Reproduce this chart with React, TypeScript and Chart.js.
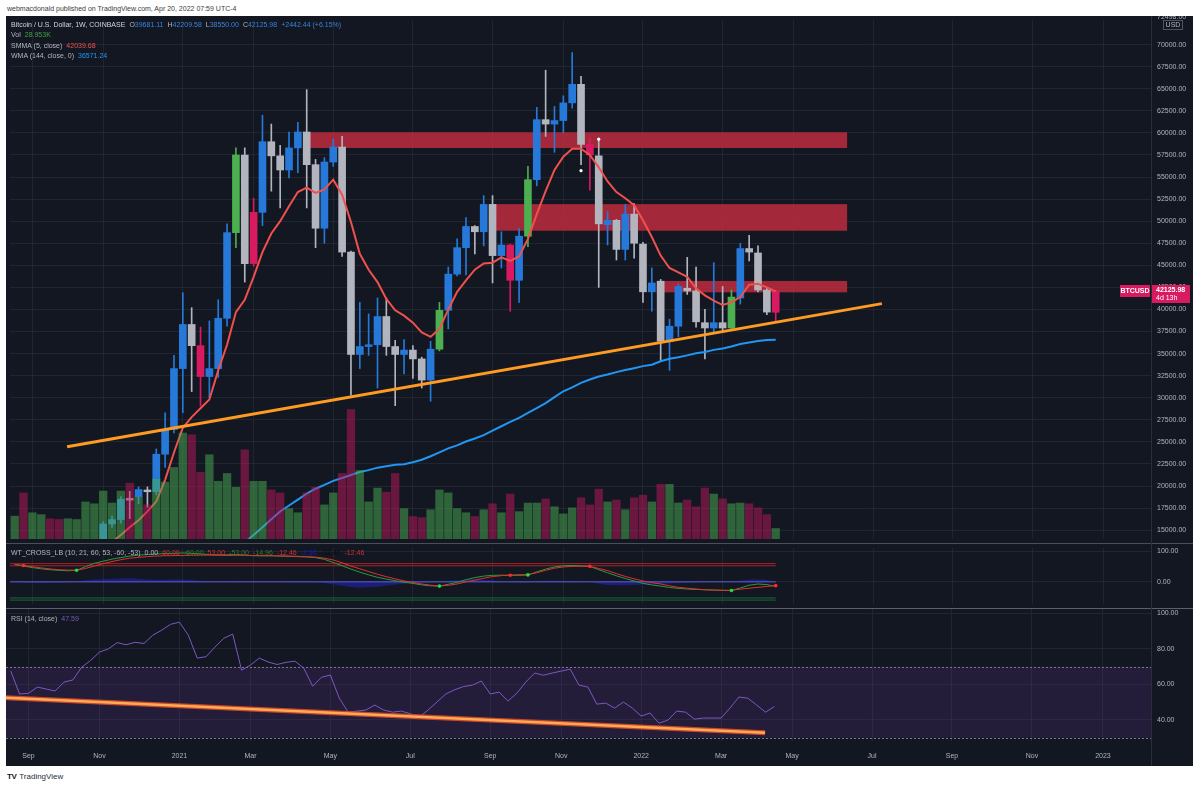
import React, { useEffect, useRef } from 'react';
import { Chart, registerables } from 'chart.js';

Chart.register(...registerables);

const FONT = "'Liberation Sans', Arial, Helvetica, sans-serif";
const BG = '#131722';
const GRID = 'rgba(42,46,57,0.6)';
const AXIS_TEXT = '#b2b5be';

// ---------------------------------------------------------------------------
// Weekly BTCUSD (COINBASE). Index 0 is the week of 24 Aug 2020.
// The first ten weeks trade below the visible price range, so OHLC starts at 10.
// ---------------------------------------------------------------------------
const FIRST_CANDLE = 10;

const candleOpen = [
  13800, 15700, 16200, 18600, 18800, 19550, 19350, 23600, 26400, 33300,
  38300, 35900, 32400, 33300, 39000, 48700, 57500, 45200, 51000, 59000,
  57400, 55800, 58300, 60100, 56400, 49200, 56700, 58400, 46500, 34900,
  35800, 36000, 39200, 35800, 34900, 35400, 34400, 32000, 35500, 39900,
  44000, 47000, 49400, 48800, 51900, 46100, 47300, 43300, 48300, 54700,
  61500, 61000, 61400, 63400, 65500, 58700, 57400, 49600, 50100, 46800,
  50800, 47400, 42000, 43200, 36400, 38100, 42400, 42100, 38500, 37900,
  38500, 37900, 41300, 46900, 46400, 42200, 39681.11,
];
const candleHigh = [
  15960, 16600, 18800, 19400, 19900, 19900, 24200, 28300, 34800, 41900,
  40200, 38000, 38700, 41100, 49700, 58300, 58300, 52600, 62000, 61000,
  58600, 60100, 61200, 64900, 57000, 57200, 59300, 59600, 46600, 40800,
  39500, 41300, 41300, 36500, 36600, 35900, 34600, 36400, 40800, 44800,
  48000, 50400, 49500, 52900, 52900, 48800, 47400, 49200, 56200, 62900,
  67100, 63000, 64200, 69100, 66400, 59400, 59200, 51100, 50200, 51900,
  52000, 47600, 44700, 43400, 38900, 42900, 45900, 44800, 40000, 45300,
  42600, 42200, 47500, 48400, 47200, 42500, 42209.58,
];
const candleLow = [
  13200, 15300, 15800, 16300, 18000, 17600, 19000, 22100, 26000, 28300,
  30700, 29100, 30000, 32300, 38100, 47000, 43100, 44900, 49500, 53400,
  51500, 54900, 55500, 51500, 47000, 47500, 56200, 46000, 30300, 33300,
  34800, 31100, 34800, 29100, 32700, 32200, 31100, 29600, 35300, 37800,
  43800, 43900, 46300, 47200, 43000, 44700, 39800, 40800, 47100, 54000,
  59600, 57800, 60000, 62800, 56400, 53500, 42500, 47300, 45600, 45600,
  45800, 40800, 39800, 34200, 33100, 36900, 41700, 38000, 34400, 37300,
  37600, 37700, 40600, 45500, 42000, 39400, 38550.0,
];
const candleClose = [
  15700, 16200, 18500, 18400, 19600, 19350, 23600, 26400, 33300, 38300,
  35900, 32400, 33300, 39000, 48700, 57500, 45200, 51000, 59000, 57400,
  55800, 58300, 60100, 56400, 49200, 56700, 58400, 46500, 34900, 35800,
  36000, 39200, 35800, 34900, 35400, 34400, 32000, 35500, 39900, 44000,
  47000, 49400, 48800, 51900, 46100, 47300, 43300, 48300, 54700, 61500,
  61000, 61400, 63400, 65500, 58700, 57500, 49700, 50100, 46800, 50800,
  47500, 42000, 43000, 36400, 38100, 42600, 42100, 38600, 37900, 38500,
  37900, 41400, 46900, 46500, 42200, 39700, 42125.98,
];
// bar paint: b = blue, w = grey, g = green, m = magenta
const candleTone = [
  'b', 'b', 'b', 'w', 'b', 'w', 'b', 'b', 'b', 'b',
  'w', 'm', 'b', 'b', 'b', 'g', 'w', 'm', 'b', 'w',
  'w', 'b', 'b', 'w', 'w', 'b', 'b', 'w', 'w', 'b',
  'b', 'b', 'w', 'w', 'b', 'w', 'w', 'b', 'g', 'b',
  'b', 'b', 'w', 'b', 'w', 'b', 'm', 'b', 'g', 'b',
  'w', 'b', 'b', 'b', 'w', 'm', 'w', 'b', 'w', 'b',
  'w', 'w', 'b', 'w', 'b', 'b', 'w', 'w', 'w', 'b',
  'w', 'g', 'b', 'w', 'w', 'w', 'm',
];

// volume in thousands of BTC, from index 0
const volumeK = [
  62, 124, 71, 66, 55, 53, 55, 53, 100, 95,
  129, 97, 129, 150, 113, 92, 161, 153, 192, 284,
  279, 179, 226, 155, 176, 139, 239, 155, 155, 132,
  124, 82, 71, 124, 139, 92, 124, 176, 347, 184,
  100, 137, 126, 176, 82, 61, 58, 79, 132, 124,
  82, 71, 61, 79, 95, 71, 121, 74, 97, 97,
  108, 87, 68, 84, 111, 92, 134, 100, 105, 79,
  111, 118, 100, 147, 147, 97, 105, 87, 137, 121,
  108, 95, 97, 95, 84, 66, 28.953,
];
const volumeTone = [
  'g', 'm', 'g', 'g', 'm', 'm', 'g', 'g', 'g', 'g',
  'g', 'g', 'g', 'm', 'g', 'm', 'g', 'g', 'g', 'g',
  'm', 'm', 'g', 'g', 'g', 'g', 'm', 'g', 'g', 'm',
  'm', 'g', 'g', 'm', 'm', 'g', 'g', 'm', 'm', 'g',
  'g', 'g', 'm', 'm', 'g', 'm', 'm', 'g', 'g', 'g',
  'g', 'g', 'm', 'g', 'm', 'g', 'm', 'g', 'g', 'g',
  'm', 'g', 'g', 'g', 'm', 'm', 'm', 'g', 'm', 'g',
  'm', 'm', 'g', 'm', 'g', 'g', 'm', 'm', 'm', 'g',
  'm', 'g', 'g', 'm', 'm', 'm', 'g',
];

// SMMA (5, close), from index 11
const SMMA_START = 11;
const smma5 = [
  13660, 14450, 15340, 16120, 17120, 18240, 20700, 23800, 26600,
  27800, 28800, 29800, 33100, 36000, 39700, 41100, 43700, 46500, 48600,
  50000, 51700, 53300, 53800, 53200, 53600, 54700, 53000, 49900, 46300,
  44500, 43100, 41200, 39900, 39300, 38500, 37400, 36900, 37800, 40000,
  42000, 43300, 44500, 45200, 45300, 45900, 45500, 46000, 48000, 50800,
  53400, 55800, 57300, 58200, 58200, 57500, 56100, 54500, 53300, 52600,
  51800, 50100, 48200, 46100, 44700, 44200, 43700, 42400, 41600, 41000,
  40500, 40800, 41400, 42800, 42900, 42500, 42039.68,
];

// WMA (144, close, 0), from index 26
const WMA_START = 26;
const wma144 = [
  13660, 14440, 15330, 16230,
  17120, 17790, 18460, 19130, 19690, 20130, 20580, 20910, 21250, 21580,
  21800, 22080, 22250, 22420, 22470, 22700, 22980, 23370, 23810, 24260,
  24600, 25040, 25380, 25770, 26270, 26770, 27270, 27720, 28280, 28830,
  29390, 30060, 30730, 31180, 31680, 32070, 32400, 32630, 32900, 33130,
  33350, 33580, 33740, 34130, 34410, 34580, 34800, 35030, 35190, 35420,
  35580, 35810, 36090, 36250, 36420, 36530, 36571.24,
];

// white signal dots on the price pane
const signalIdx = [64, 66];
const signalPrice = [55720, 59290];

// supply zones: price band and week span
const zoneTop = [60070, 51930, 43230];
const zoneBottom = [58290, 48920, 41940];
const zoneFrom = [32.6, 53.9, 72.55];
const zoneTo = [94.07, 94.07, 94.07];

// rising support line (week index, price)
const supportX = [5.92, 98.0];
const supportY = [24450, 40660];

// WT_CROSS_LB, from index 0
const wt1 = [
  57, 52, 47, 43, 40, 38, 36.6, 38, 50, 61,
  68, 75, 80, 85, 88, 90, 92, 93, 94, 95,
  94, 92, 90, 89, 89, 90, 88, 86, 86, 86,
  85, 84, 83, 82, 80, 74, 64, 53, 42, 32,
  23, 15, 9, 4, -1, -5, -10, -13, -14.4, -8,
  -1.5, 7, 14, 19, 21.5, 22, 21.5, 21.5, 22.2, 33,
  42, 49, 53, 54, 52.5, 51, 40, 30, 20, 11,
  3, -5, -10, -14, -18.5, -21.5, -23.5, -25, -26, -27,
  -28, -28.8, -20, -11, -7, -9, -14.96,
];
const wt2 = [
  57.6, 54, 50, 46, 42.5, 40, 38.6, 38.6, 44, 52,
  60, 67, 73, 78, 80.5, 83, 85, 86, 86.5, 87,
  87.5, 88, 88, 87.5, 87, 87.5, 87.5, 87, 86, 86,
  85.5, 85, 84, 83, 81.5, 78, 72, 63, 52, 43,
  34, 25, 17, 10, 3, -2, -7, -11, -13.3, -11.5,
  -7, 0, 5.5, 12, 17.3, 20.5, 22.2, 23.5, 24.2, 30,
  38, 45, 49, 51, 51.5, 51, 44, 37, 27, 18,
  10, 3, -2.5, -7, -13, -18, -21, -23.5, -25.9, -27,
  -27.7, -27.5, -24, -21, -18, -15, -12.46,
];
const wtDiff = [
  0, -2, -3, -3, -2.5, -2, -1, 0, 5, 8,
  9, 10, 11, 12, 10, 8, 7, 7, 7.5, 8,
  6, 4, 2, 1.5, 2, 2.5, 0.5, -1, 0, 0,
  -0.5, -1, -1, -1, -1.5, -4, -8, -13, -17, -19,
  -18, -16, -13, -9, -6, -4, -3, -2, -1, 3.5,
  5.5, 7, 8.5, 7, 4.2, 1.5, -0.7, -2, -2, 3,
  4, 4, 4, 3, 1, 0, -6, -10, -11, -11,
  -10, -9, -7.5, -7, -5.5, -3.5, -2.5, -1.5, -0.1, 0,
  -0.3, -1.3, 4, 8, 8, 6, -2.5,
];
const wtLevels = [0, 60, 53, -60, -53];
const wtLevelColors = ['#5c5cd8', 'rgba(214,40,40,0.75)', 'rgba(214,40,40,0.75)', 'rgba(30,140,60,0.7)', 'rgba(30,140,60,0.7)'];
const crossUpIdx = [7, 48, 58, 81];
const crossUpVal = [38.3, -14, 23, -28.5];
const crossDownIdx = [1, 56, 65, 86];
const crossDownVal = [54, 22, 51, -12.46];

// RSI (14, close), from index 0
const rsi14 = [
  67.5, 54.6, 55.0, 58.5, 57.4, 56.3, 61.3, 62.5, 69.7, 73.5,
  78.2, 80.0, 83.5, 82.3, 83.7, 83.0, 87.7, 90.5, 93.8, 95.0,
  87.7, 74.8, 75.6, 81.0, 86.0, 88.3, 68.0, 70.9, 74.8, 72.6,
  71.2, 72.4, 73.1, 69.2, 59.0, 64.0, 65.3, 52.3, 44.4, 45.0,
  45.6, 48.4, 45.6, 44.4, 45.0, 43.5, 41.6, 45.6, 50.1, 54.6,
  57.0, 58.8, 59.6, 61.9, 54.6, 55.7, 50.6, 55.1, 61.3, 66.4,
  65.2, 66.4, 67.5, 68.6, 59.6, 58.5, 48.9, 49.5, 46.7, 50.1,
  46.7, 42.2, 43.9, 38.2, 39.9, 45.0, 44.4, 40.5, 41.1, 41.1,
  41.1, 46.7, 52.9, 52.3, 48.4, 44.4, 47.59,
];
const rsiBandTop = 70;
const rsiBandBottom = 30;
const rsiTrendX = [-0.53, 84.95];
const rsiTrendY = [52.5, 32.8];

// axes
const priceTicks = [
  15000, 17500, 20000, 22500, 25000, 27500, 30000, 32500, 35000, 37500, 40000, 42500,
  45000, 47500, 50000, 52500, 55000, 57500, 60000, 62500, 65000, 67500, 70000,
];
const wtTicks = [100, 0];
const rsiTicks = [100, 80, 60, 40];
const timeTickIdx = [2, 10, 19, 27, 36, 45, 54, 62, 71, 80, 88, 97, 106, 115, 123];
const timeTickLabels = ['Sep', 'Nov', '2021', 'Mar', 'May', 'Jul', 'Sep', 'Nov', '2022', 'Mar', 'May', 'Jul', 'Sep', 'Nov', '2023'];

const X_MIN = -0.53;
const X_MAX = 128.41;
const PRICE_MIN = 13997;
const PRICE_MAX = 72789;
const VOL_MAX = 1387;
const WT_MIN = -72.9;
const WT_MAX = 111.5;
const RSI_MIN = 28.18;
const RSI_MAX = 102.42;

const TONE = { b: '#2679d9', w: '#b2b5be', g: '#4caf50', m: '#d81b60' };
const VOL_TONE = { g: 'rgba(76,175,80,0.5)', m: 'rgba(194,24,91,0.5)' };

// ---------------------------------------------------------------------------

function xScale(showLabels: boolean) {
  return {
    type: 'linear',
    min: X_MIN,
    max: X_MAX,
    offset: false,
    afterBuildTicks: (s: any) => {
      s.ticks = timeTickIdx.map((v) => ({ value: v }));
    },
    ticks: {
      display: showLabels,
      autoSkip: false,
      maxRotation: 0,
      color: AXIS_TEXT,
      font: { family: FONT, size: 7 },
      padding: 11,
      callback: (v: number) => {
        const k = timeTickIdx.indexOf(v);
        return k >= 0 ? timeTickLabels[k] : '';
      },
    },
    grid: { color: GRID, drawTicks: false, offset: false },
    border: { display: false },
    afterFit: (s: any) => {
      s.height = showLabels ? 25 : 0;
      s.paddingLeft = 0;
      s.paddingRight = 0;
    },
  };
}

function yScale(min: number, max: number, ticks: number[]) {
  return {
    type: 'linear',
    position: 'right',
    min,
    max,
    afterBuildTicks: (s: any) => {
      s.ticks = ticks.map((v) => ({ value: v }));
    },
    ticks: {
      color: AXIS_TEXT,
      font: { family: FONT, size: 7 },
      padding: 6,
      autoSkip: false,
      callback: (v: number) => Number(v).toFixed(2),
    },
    grid: { color: GRID, drawTicks: false },
    border: { display: false },
    afterFit: (s: any) => {
      s.width = 42;
      s.paddingTop = 0;
      s.paddingBottom = 0;
    },
  };
}

const baseOptions = {
  responsive: false,
  animation: false,
  devicePixelRatio: 1,
  events: [],
  layout: { padding: 0 },
  plugins: { legend: { display: false }, tooltip: { enabled: false } },
};

const zonesPlugin = {
  id: 'zones',
  beforeDatasetsDraw(chart: any) {
    const { ctx, chartArea: a, scales } = chart;
    const x = scales.x;
    const y = scales.y;
    ctx.save();
    ctx.beginPath();
    ctx.rect(a.left, a.top, a.width, a.height);
    ctx.clip();
    ctx.fillStyle = 'rgba(200,45,65,0.8)';
    zoneTop.forEach((t, k) => {
      const x0 = x.getPixelForValue(zoneFrom[k]);
      const x1 = x.getPixelForValue(zoneTo[k]);
      const y0 = y.getPixelForValue(t);
      const y1 = y.getPixelForValue(zoneBottom[k]);
      ctx.fillRect(x0, y0, x1 - x0, y1 - y0);
    });
    ctx.restore();
  },
};

const priceTagPlugin = {
  id: 'priceTag',
  afterDraw(chart: any) {
    const { ctx, chartArea: a, scales } = chart;
    const last = candleClose[candleClose.length - 1];
    const py = Math.round(scales.y.getPixelForValue(last));
    ctx.save();
    ctx.fillStyle = '#d81b60';
    ctx.fillRect(a.right - 31, py - 6, 30, 12);
    ctx.fillRect(a.right + 1, py - 6, 38, 18);
    ctx.fillStyle = '#ffffff';
    ctx.textBaseline = 'middle';
    ctx.font = `bold 7px ${FONT}`;
    ctx.textAlign = 'center';
    ctx.fillText('BTCUSD', a.right - 16, py);
    ctx.textAlign = 'left';
    ctx.fillText(last.toFixed(2), a.right + 5, py - 0.5);
    ctx.font = `7px ${FONT}`;
    ctx.fillText('4d 13h', a.right + 5, py + 7.5);
    // top of the price scale
    ctx.fillStyle = AXIS_TEXT;
    ctx.fillText('72498.00', a.right + 6, 1);
    ctx.strokeStyle = '#50535e';
    ctx.lineWidth = 1;
    ctx.strokeRect(a.right + 12.5, 4.5, 19, 9);
    ctx.textAlign = 'center';
    ctx.fillText('USD', a.right + 22, 9.5);
    ctx.restore();
  },
};

const rsiBandPlugin = {
  id: 'rsiBand',
  beforeDatasetsDraw(chart: any) {
    const { ctx, chartArea: a, scales } = chart;
    const t = scales.y.getPixelForValue(rsiBandTop);
    const b = scales.y.getPixelForValue(rsiBandBottom);
    ctx.save();
    ctx.fillStyle = 'rgba(126,70,200,0.15)';
    ctx.fillRect(a.left, t, a.width, b - t);
    ctx.strokeStyle = '#787b86';
    ctx.lineWidth = 1;
    ctx.setLineDash([2, 2]);
    [t, b].forEach((yy) => {
      const p = Math.round(yy) + 0.5;
      ctx.beginPath();
      ctx.moveTo(a.left, p);
      ctx.lineTo(a.right, p);
      ctx.stroke();
    });
    ctx.restore();
  },
};

function lineSet(data: any[], color: string, width: number, order: number, extra: any = {}) {
  return {
    type: 'line',
    data,
    borderColor: color,
    borderWidth: width,
    pointRadius: 0,
    tension: 0,
    fill: false,
    order,
    ...extra,
  };
}

function mainConfig(): any {
  const at = (k: number) => FIRST_CANDLE + k;
  const tones = candleTone.map((t) => (TONE as any)[t]);
  return {
    type: 'bar',
    data: {
      datasets: [
        lineSet(supportX.map((x, k) => ({ x, y: supportY[k] })), '#ff9b21', 3, 0),
        {
          type: 'bar',
          yAxisID: 'yv',
          data: volumeK.map((v, i) => ({ x: i, y: v })),
          backgroundColor: volumeTone.map((t) => (VOL_TONE as any)[t]),
          barPercentage: 0.94,
          categoryPercentage: 1,
          grouped: false,
          borderWidth: 0,
          order: 1,
        },
        {
          type: 'line',
          data: signalIdx.map((x, k) => ({ x, y: signalPrice[k] })),
          showLine: false,
          pointRadius: 1.6,
          pointBorderWidth: 0,
          pointBackgroundColor: '#ffffff',
          order: 2,
        },
        lineSet(smma5.map((v, k) => ({ x: SMMA_START + k, y: v })), '#f0514e', 2, 3),
        lineSet(wma144.map((v, k) => ({ x: WMA_START + k, y: v })), '#2196f3', 2, 4),
        {
          type: 'bar',
          data: candleOpen.map((o, k) => ({ x: at(k), y: [o, candleClose[k]] })),
          backgroundColor: tones,
          barThickness: 7,
          grouped: false,
          borderWidth: 0,
          order: 5,
        },
        {
          type: 'bar',
          data: candleHigh.map((h, k) => ({ x: at(k), y: [candleLow[k], h] })),
          backgroundColor: tones,
          barThickness: 1,
          grouped: false,
          borderWidth: 0,
          order: 6,
        },
      ],
    },
    options: {
      ...baseOptions,
      scales: {
        x: xScale(false),
        y: yScale(PRICE_MIN, PRICE_MAX, priceTicks),
        yv: { type: 'linear', display: false, min: 0, max: VOL_MAX },
      },
    },
    plugins: [zonesPlugin, priceTagPlugin],
  };
}

function wtConfig(): any {
  const series = (arr: number[]) => arr.map((v, i) => ({ x: i, y: v }));
  const last = wt1.length - 1;
  return {
    type: 'line',
    data: {
      datasets: [
        lineSet(series(wtDiff), 'rgba(0,0,0,0)', 0, 9, {
          fill: 'origin',
          backgroundColor: 'rgba(40,40,235,0.42)',
        }),
        ...wtLevels.map((lv, k) =>
          lineSet([{ x: -1, y: lv }, { x: last, y: lv }], wtLevelColors[k], 1, 8),
        ),
        lineSet(series(wt1), '#2e9a3c', 1, 3),
        lineSet(series(wt2), '#e0312f', 1, 2),
        {
          type: 'line',
          data: crossUpIdx.map((x, k) => ({ x, y: crossUpVal[k] })),
          showLine: false,
          pointRadius: 1.8,
          pointBorderWidth: 0,
          pointBackgroundColor: '#19e33a',
          order: 0,
        },
        {
          type: 'line',
          data: crossDownIdx.map((x, k) => ({ x, y: crossDownVal[k] })),
          showLine: false,
          pointRadius: 1.8,
          pointBorderWidth: 0,
          pointBackgroundColor: '#ff2a2a',
          order: 0,
        },
      ],
    },
    options: {
      ...baseOptions,
      scales: {
        x: xScale(false),
        y: yScale(WT_MIN, WT_MAX, wtTicks),
      },
    },
  };
}

function rsiConfig(): any {
  const trend = rsiTrendX.map((x, k) => ({ x, y: rsiTrendY[k] }));
  return {
    type: 'line',
    data: {
      datasets: [
        lineSet(rsi14.map((v, i) => ({ x: i, y: v })), '#7e57c2', 1, 3),
        lineSet(trend, '#c8472b', 5, 1),
        lineSet(trend, '#ffaa55', 2.5, 0),
      ],
    },
    options: {
      ...baseOptions,
      scales: {
        x: xScale(true),
        y: yScale(RSI_MIN, RSI_MAX, rsiTicks),
      },
    },
    plugins: [rsiBandPlugin],
  };
}

const grey = '#b2b5be';
const blue = '#3a82d8';
const txt: React.CSSProperties = {
  position: 'absolute',
  whiteSpace: 'nowrap',
  fontSize: 7,
  lineHeight: '10px',
  color: grey,
  pointerEvents: 'none',
};

export default function App() {
  const mainRef = useRef<HTMLCanvasElement>(null);
  const wtRef = useRef<HTMLCanvasElement>(null);
  const rsiRef = useRef<HTMLCanvasElement>(null);

  useEffect(() => {
    const charts = [
      new Chart(mainRef.current as HTMLCanvasElement, mainConfig()),
      new Chart(wtRef.current as HTMLCanvasElement, wtConfig()),
      new Chart(rsiRef.current as HTMLCanvasElement, rsiConfig()),
    ];
    return () => charts.forEach((c) => c.destroy());
  }, []);

  const sp = (s: string, color: string, ml = 0) => (
    <span style={{ color, marginLeft: ml }}>{s}</span>
  );

  return (
    <div
      style={{
        position: 'fixed',
        left: 0,
        top: 0,
        width: 1200,
        height: 788,
        background: '#ffffff',
        overflow: 'hidden',
        fontFamily: FONT,
      }}
    >
      <div style={{ ...txt, left: 7, top: 4, color: '#3c3c3c' }}>
        webmacdonald published on TradingView.com, Apr 20, 2022 07:59 UTC-4
      </div>

      <div style={{ position: 'absolute', left: 6, top: 16, width: 1187, height: 750, background: BG }} />

      <canvas ref={mainRef} width={1187} height={527} style={{ position: 'absolute', left: 6, top: 16 }} />
      <canvas ref={wtRef} width={1187} height={64} style={{ position: 'absolute', left: 6, top: 544 }} />
      <canvas ref={rsiRef} width={1187} height={157} style={{ position: 'absolute', left: 6, top: 609 }} />

      <div style={{ position: 'absolute', left: 6, top: 543, width: 1187, height: 1, background: '#4a4e59' }} />
      <div style={{ position: 'absolute', left: 6, top: 608, width: 1187, height: 1, background: '#5d606b' }} />
      <div style={{ position: 'absolute', left: 1151, top: 16, width: 1, height: 750, background: '#2a2e39' }} />

      <div style={{ ...txt, left: 11, top: 20 }}>
        {sp('Bitcoin / U.S. Dollar, 1W, COINBASE', '#d1d4dc')}
        {sp('O', grey, 4)}
        {sp('39681.11', blue)}
        {sp('H', grey, 4)}
        {sp('42209.58', blue)}
        {sp('L', grey, 4)}
        {sp('38550.00', blue)}
        {sp('C', grey, 4)}
        {sp('42125.98', blue)}
        {sp('+2442.44 (+6.15%)', blue, 4)}
      </div>
      <div style={{ ...txt, left: 11, top: 30 }}>
        {sp('Vol', grey)}
        {sp('28.953K', '#43a047', 4)}
      </div>
      <div style={{ ...txt, left: 11, top: 41 }}>
        {sp('SMMA (5, close)', grey)}
        {sp('42039.68', '#ef5350', 4)}
      </div>
      <div style={{ ...txt, left: 11, top: 51 }}>
        {sp('WMA (144, close, 0)', grey)}
        {sp('36571.24', '#2196f3', 4)}
      </div>

      <div style={{ ...txt, left: 11, top: 548 }}>
        {sp('WT_CROSS_LB (10, 21, 60, 53, -60, -53)', grey)}
        {sp('0.00', grey, 4)}
        {sp('60.00', '#d32f2f', 4)}
        {sp('-60.00', '#2e7d32', 4)}
        {sp('53.00', '#d32f2f', 4)}
        {sp('-53.00', '#2e7d32', 4)}
        {sp('-14.96', '#2e7d32', 4)}
        {sp('-12.46', '#d32f2f', 4)}
        {sp('-2.50', '#1a1ad0', 4)}
        {sp('-12.46', '#0b0b0b', 4)}
        {sp('-12.46', '#d32f2f', 4)}
      </div>

      <div style={{ ...txt, left: 11, top: 614 }}>
        {sp('RSI (14, close)', grey)}
        {sp('47.59', '#7e57c2', 4)}
      </div>

      <div style={{ ...txt, left: 7, top: 772, color: '#131722', fontSize: 8 }}>
        <span style={{ fontWeight: 900, letterSpacing: -0.5 }}>TV</span>
        <span style={{ marginLeft: 3, color: '#2a2e39' }}>TradingView</span>
      </div>
    </div>
  );
}
